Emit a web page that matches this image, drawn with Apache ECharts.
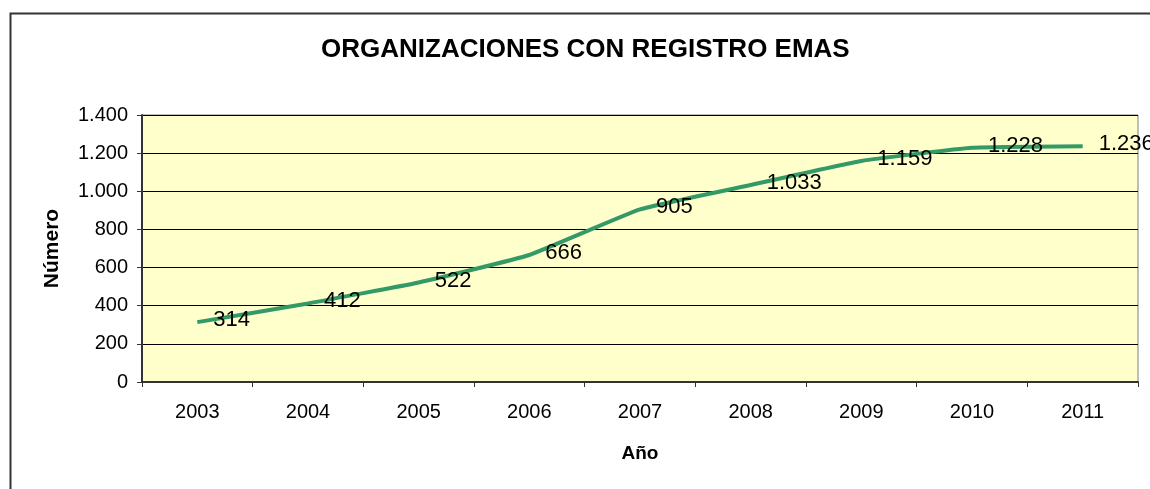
<!DOCTYPE html>
<html>
<head>
<meta charset="utf-8">
<script src="https://cdn.jsdelivr.net/npm/echarts@6/dist/echarts.min.js"></script>
<style>
  html, body { margin: 0; padding: 0; background: #fff; }
  #chart_example { width: 1150px; height: 489px; }
</style>
</head>
<body>
<div id="chart_example"></div>
<script>
// datos
var years = ['2003', '2004', '2005', '2006', '2007', '2008', '2009', '2010', '2011'];
var organizaciones = [314, 412, 522, 666, 905, 1033, 1159, 1228, 1236];
var yTicks = [0, 200, 400, 600, 800, 1000, 1200, 1400];

// formato con punto de miles (1.228)
function miles(v) {
  return String(v).replace(/\B(?=(\d{3})+(?!\d))/g, '.');
}

var fuente = 'Liberation Sans, Arial, sans-serif';

var myChart = echarts.init(document.getElementById('chart_example'));

var option1 = {
  backgroundColor: '#ffffff',
  animation: false,
  textStyle: { fontFamily: fuente },
  graphic: [{
    type: 'rect',
    left: 8, top: 11,
    shape: { width: 1200, height: 600 },
    style: { fill: 'none', stroke: '#333333', lineWidth: 2 },
    z: -1
  }],
  title: {
    text: 'ORGANIZACIONES CON REGISTRO EMAS',
    left: 316,
    top: 32,
    textStyle: { color: '#000', fontSize: 26, fontWeight: 'bold', fontFamily: fuente }
  },
  grid: {
    left: 142, right: 12, top: 115, bottom: 107,
    show: true,
    backgroundColor: '#FFFFCC',
    borderColor: '#808080',
    borderWidth: 1
  },
  xAxis: {
    type: 'category',
    data: years,
    boundaryGap: true,
    name: 'Año',
    nameLocation: 'middle',
    nameGap: 62,
    nameTextStyle: { color: '#000', fontSize: 19, fontWeight: 'bold', fontFamily: fuente },
    axisLine: { lineStyle: { color: '#333', width: 2 } },
    axisTick: { show: true, length: 5, lineStyle: { color: '#333' } },
    axisLabel: { color: '#000', fontSize: 20, margin: 20, fontFamily: fuente },
    splitLine: { show: false }
  },
  yAxis: {
    type: 'value',
    min: yTicks[0],
    max: yTicks[yTicks.length - 1],
    interval: yTicks[1] - yTicks[0],
    name: 'Número',
    nameLocation: 'middle',
    nameGap: 79,
    nameTextStyle: { color: '#000', fontSize: 21, fontWeight: 'bold', fontFamily: fuente },
    axisLine: { show: true, lineStyle: { color: '#333', width: 2 } },
    axisTick: { show: true, length: 5, lineStyle: { color: '#333' } },
    axisLabel: {
      color: '#000', fontSize: 20, margin: 14, fontFamily: fuente,
      formatter: function (v) { return miles(v); }
    },
    splitLine: { show: true, lineStyle: { color: '#000', width: 1 } }
  },
  series: [{
    name: 'Organizaciones',
    type: 'line',
    data: organizaciones,
    smooth: 0.12,
    symbol: 'circle',
    symbolSize: 0,
    showSymbol: true,
    lineStyle: { color: '#339966', width: 4 },
    itemStyle: { color: '#339966' },
    label: {
      show: true,
      position: 'right',
      distance: 16,
      offset: [0, -2],
      color: '#000',
      fontSize: 22,
      fontFamily: fuente,
      formatter: function (p) { return miles(p.value); }
    }
  }]
};

myChart.setOption(option1);
window.addEventListener('resize', function () { myChart.resize(); });
</script>
</body>
</html>
